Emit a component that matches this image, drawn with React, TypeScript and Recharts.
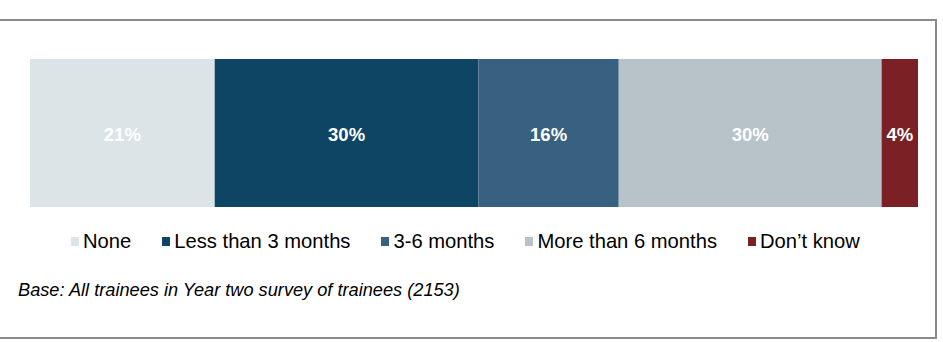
import React from "react";
import { BarChart, Bar, XAxis, YAxis, LabelList } from "recharts";

const categories = ["Time"];
const seriesNames = ["None", "Less than 3 months", "3-6 months", "More than 6 months", "Don\u2019t know"];
const seriesKeys = ["none", "less3", "m36", "more6", "dk"];
const seriesValues = [20.8, 29.7, 15.8, 29.6, 4.1];
const seriesColors = ["#dbe4e6", "#0f4564", "#386080", "#b7c3c8", "#7b2024"];
const baseNote = "Base: All trainees in Year two survey of trainees (2153)";

const data = categories.map((c) => {
  const row: Record<string, string | number> = { name: c };
  seriesKeys.forEach((k, i) => {
    row[k] = seriesValues[i];
  });
  return row;
});

const FONT = "'Liberation Sans', Arial, sans-serif";

const renderLabel = (props: any) => {
  const { x, y, width, height, value } = props;
  const cx = Number(x) + Number(width) / 2;
  const cy = Number(y) + Number(height) / 2;
  return (
    <text
      x={cx}
      y={cy + 7.5}
      textAnchor="middle"
      fill="#ffffff"
      fontFamily={FONT}
      fontWeight="bold"
      fontSize={18.5}
    >
      {Math.round(Number(value))}%
    </text>
  );
};

export default function App() {
  return (
    <div
      style={{
        position: "fixed",
        left: 0,
        top: 0,
        width: 943,
        height: 342,
        background: "#ffffff",
        overflow: "hidden",
      }}
    >
      <div
        style={{
          position: "absolute",
          left: -4,
          top: 19,
          width: 937,
          height: 316,
          border: "2px solid #8a8a8a",
          boxSizing: "content-box",
        }}
      />
      <div style={{ position: "absolute", left: 0, top: 0 }}>
        <BarChart
          width={943}
          height={342}
          data={data}
          layout="vertical"
          margin={{ top: 59, right: 25, bottom: 135, left: 30 }}
          barCategoryGap={0}
        >
          <XAxis type="number" domain={[0, 100]} hide />
          <YAxis type="category" dataKey="name" hide />
          {seriesKeys.map((k, i) => (
            <Bar
              key={k}
              dataKey={k}
              name={seriesNames[i]}
              stackId="a"
              fill={seriesColors[i]}
              isAnimationActive={false}
            >
              <LabelList dataKey={k} content={renderLabel} />
            </Bar>
          ))}
        </BarChart>
      </div>
      <div
        style={{
          position: "absolute",
          left: 71,
          top: 230,
          display: "flex",
          alignItems: "center",
          gap: 31,
          fontFamily: FONT,
          fontSize: 20.2,
          color: "#000",
          whiteSpace: "nowrap",
          lineHeight: "normal",
        }}
      >
        {seriesNames.map((n, i) => (
          <div key={n} style={{ display: "flex", alignItems: "center" }}>
            <span
              style={{
                display: "inline-block",
                width: 8,
                height: 9,
                background: seriesColors[i],
                marginRight: 4,
              }}
            />
            <span>{n}</span>
          </div>
        ))}
      </div>
      <div
        style={{
          position: "absolute",
          left: 18,
          top: 280,
          fontFamily: FONT,
          fontStyle: "italic",
          fontSize: 18.2,
          color: "#000",
          whiteSpace: "nowrap",
          lineHeight: "normal",
        }}
      >
        {baseNote}
      </div>
    </div>
  );
}
